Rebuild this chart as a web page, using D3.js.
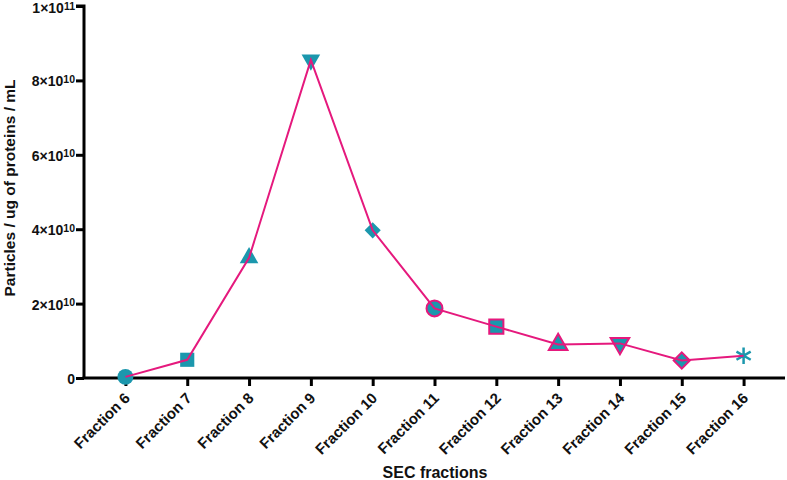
<!DOCTYPE html>
<html>
<head>
<meta charset="utf-8">
<script src="https://cdn.jsdelivr.net/npm/d3@7"></script>
<style>
  body { margin: 0; background: #fff; }
  text { font-family: "Liberation Sans", Arial, sans-serif; font-weight: bold; }
</style>
</head>
<body>
<script>
var w = 787;
var h = 480;

var fractions = ["Fraction 6", "Fraction 7", "Fraction 8", "Fraction 9", "Fraction 10",
  "Fraction 11", "Fraction 12", "Fraction 13", "Fraction 14", "Fraction 15", "Fraction 16"];
var particles = [0.03e10, 0.49e10, 3.23e10, 8.55e10, 3.97e10,
  1.87e10, 1.38e10, 0.9e10, 0.93e10, 0.47e10, 0.6e10];
var shapes = ["circle", "square", "triangle", "triangleDown", "diamond",
  "circle", "square", "triangle", "triangleDown", "diamond", "asterisk"];
var yTicks = [0, 2e10, 4e10, 6e10, 8e10, 1e11];

var teal = "#1b97ad";
var pink = "#e5197d";

var svg = d3.select("body").append("svg")
  .attr("width", w).attr("height", h);

var x = d3.scalePoint().domain(fractions).range([84, 785]).padding(0.67);
var y = d3.scaleLinear().domain([0, 1e11]).range([378, 6]);

// axes
var yAxis = svg.append("g")
  .attr("transform", "translate(84,0)")
  .call(d3.axisLeft(y).tickValues(yTicks).tickSize(8).tickFormat(""));
var xAxis = svg.append("g")
  .attr("transform", "translate(0,378)")
  .call(d3.axisBottom(x).tickSize(8).tickSizeOuter(0));

svg.selectAll(".domain, .tick line").attr("stroke", "#000").attr("stroke-width", 3);
yAxis.select(".domain").attr("d", "M-8,6H0V378");
xAxis.select(".domain").attr("d", "M82.5,0H785");

// y tick labels with superscript exponent
yTicks.forEach(function(v) {
  var t = svg.append("text")
    .attr("x", 75).attr("y", Math.max(y(v) + 6, 13))
    .attr("text-anchor", "end")
    .attr("font-size", 14)
    .attr("fill", "#111");
  if (v === 0) { t.text("0"); return; }
  var exp = Math.floor(Math.log10(v));
  var m = Math.round(v / Math.pow(10, exp));
  t.append("tspan").text(m + "\u00d710");
  t.append("tspan").attr("dy", -3.5).attr("font-size", 10.5).text(exp);
});

xAxis.selectAll(".tick text")
  .attr("font-size", 15)
  .attr("fill", "#111")
  .attr("text-anchor", "end")
  .attr("y", 0).attr("dy", 0)
  .attr("transform", "translate(5,21) rotate(-45)");

// axis titles
svg.append("text")
  .attr("transform", "translate(15,188) rotate(-90)")
  .attr("text-anchor", "middle")
  .attr("font-size", 15.5)
  .attr("fill", "#111")
  .text("Particles / ug of proteins / mL");

svg.append("text")
  .attr("x", 435).attr("y", 478)
  .attr("text-anchor", "middle")
  .attr("font-size", 16)
  .attr("fill", "#111")
  .text("SEC fractions");

// markers
var symbolFor = {
  circle: [d3.symbolCircle, 200, 0],
  square: [d3.symbolSquare, 200, 0],
  triangle: [d3.symbolTriangle, 150, 0],
  triangleDown: [d3.symbolTriangle, 150, 180],
  diamond: [d3.symbolSquare, 130, 45],
  asterisk: [d3.symbolAsterisk, 190, 0]
};

svg.selectAll("path.mark")
  .data(particles)
  .enter()
  .append("path")
  .attr("class", "mark")
  .attr("d", function(d, i) {
    var s = symbolFor[shapes[i]];
    return d3.symbol().type(s[0]).size(s[1])();
  })
  .attr("transform", function(d, i) {
    return "translate(" + x(fractions[i]) + "," + y(d) + ") rotate(" + symbolFor[shapes[i]][2] + ")";
  })
  .attr("fill", function(d, i) { return shapes[i] === "asterisk" ? "none" : teal; })
  .attr("stroke", function(d, i) {
    if (shapes[i] === "asterisk") return teal;
    return i >= 5 ? pink : "none";
  })
  .attr("stroke-width", function(d, i) { return shapes[i] === "asterisk" ? 2.5 : 2; });

// line on top of markers
var line = d3.line()
  .x(function(d, i) { return x(fractions[i]); })
  .y(function(d) { return y(d); });

svg.append("path")
  .datum(particles)
  .attr("d", line)
  .attr("fill", "none")
  .attr("stroke", pink)
  .attr("stroke-width", 2);
</script>
</body>
</html>
